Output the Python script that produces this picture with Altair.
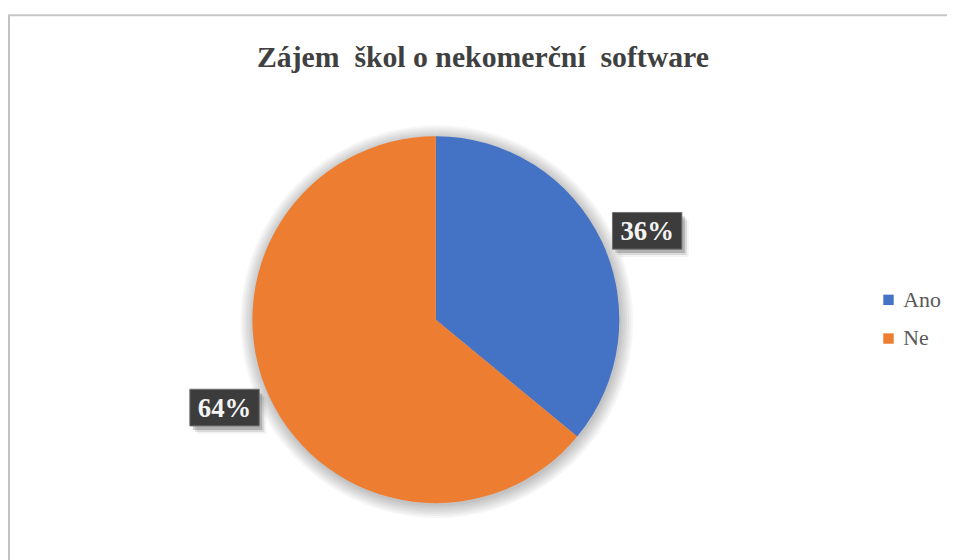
import altair as alt
import pandas as pd

# --- data ---
categories = ["Ano", "Ne"]
shares = [36, 64]
labels = ["36%", "64%"]
order_idx = [0, 1]
colors = ["#4472C4", "#ED7D31"]
title_text = "Zájem\u00a0 škol o nekomerční\u00a0 software"

df = pd.DataFrame({"kat": categories, "podil": shares, "popisek": labels, "poradi": order_idx})
title_df = pd.DataFrame({"t": [title_text]})
frame_df = pd.DataFrame({"f": [0]})

# --- layout constants ---
W, H = 947, 552
CX, CY, R = 431.5, 312, 185
LR = 231      # label distance from centre
ROT = 2.5     # small angular shift of labels (deg)
SERIF = "'Liberation Serif', 'Times New Roman', 'DejaVu Serif', serif"

base = alt.Chart(df)
theta = alt.Theta("podil:Q", stack=True)
order = alt.Order("poradi:Q")

# frame lines
top_line = alt.Chart(frame_df).mark_rule(color="#c6c6c6", strokeWidth=2).encode(
    x=alt.value(0), x2=alt.value(W + 20), y=alt.value(5))
left_line = alt.Chart(frame_df).mark_rule(color="#c2c2c2", strokeWidth=2).encode(
    x=alt.value(1), y=alt.value(5), y2=alt.value(H + 20))

# soft shadow around pie
shadow_layers = [
    base.mark_arc(outerRadius=R + k, opacity=0.035, color="#000000").encode(
        theta=theta, order=order, x=alt.value(CX + 1), y=alt.value(CY + 2))
    for k in range(1, 15, 2)
]

pie = base.mark_arc(outerRadius=R).encode(
    theta=theta,
    order=order,
    color=alt.Color(
        "kat:N",
        scale=alt.Scale(domain=categories, range=colors),
        legend=alt.Legend(
            title=None, orient="none", legendX=877, legendY=281,
            symbolType="square", symbolSize=110, symbolStrokeWidth=0,
            labelFont=SERIF, labelFontSize=22, labelColor="#595959",
            labelOffset=4, rowPadding=17, padding=0,
        ),
    ),
    x=alt.value(CX),
    y=alt.value(CY),
)

lab = (
    base.transform_window(cum="sum(podil)", sort=[alt.SortField("poradi")])
    .transform_joinaggregate(total="sum(podil)")
    .transform_calculate(
        ang=f"((datum.cum - datum.podil/2)/datum.total)*2*PI + {ROT}*PI/180",
        px=f"{CX} + {LR}*sin(datum.ang)",
        py=f"{CY} - {LR}*cos(datum.ang)",
        bx1="datum.px - 35", bx2="datum.px + 35",
        by1="datum.py - 19", by2="datum.py + 18",
    )
)

def box(dx, dy, fill, opacity, stroke=None):
    kw = dict(fill=fill, opacity=opacity)
    if stroke:
        kw.update(stroke=stroke, strokeWidth=1)
    return lab.transform_calculate(
        sx1=f"datum.bx1 + {dx}", sx2=f"datum.bx2 + {dx}",
        sy1=f"datum.by1 + {dy}", sy2=f"datum.by2 + {dy}",
    ).mark_rect(**kw).encode(
        x=alt.X("sx1:Q", scale=None, axis=None), x2="sx2:Q",
        y=alt.Y("sy1:Q", scale=None, axis=None), y2="sy2:Q")

box_shadows = [box(3, 4, "#000000", 0.18), box(5, 6, "#000000", 0.10), box(7, 8, "#000000", 0.05)]
boxes = box(0, 0, "#3c3c3c", 1.0, stroke="#707070")

texts = lab.mark_text(font=SERIF, fontSize=27, fontWeight="bold", color="#f4f4f4",
                      baseline="middle", align="center", dy=1).encode(
    x=alt.X("px:Q", scale=None, axis=None),
    y=alt.Y("py:Q", scale=None, axis=None),
    text="popisek:N")

title = alt.Chart(title_df).mark_text(font=SERIF, fontSize=30, fontWeight="bold",
                                      color="#404040", align="center",
                                      baseline="alphabetic").encode(
    x=alt.value(479), y=alt.value(57), text="t:N")

chart = alt.layer(
    top_line, left_line, *shadow_layers, pie, *box_shadows, boxes, texts, title
).properties(
    width=W, height=H, padding=0,
    autosize=alt.AutoSizeParams(type="none"),
    background="#ffffff",
).configure_view(stroke=None)

chart.save("out.html", embed_options={"renderer": "svg", "actions": False})
